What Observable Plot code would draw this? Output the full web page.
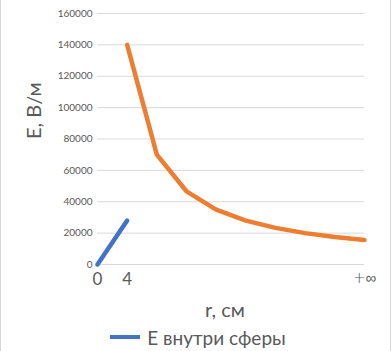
<!DOCTYPE html>
<html>
<head>
<meta charset="utf-8">
<script src="https://cdn.jsdelivr.net/npm/d3@7"></script>
<script src="https://cdn.jsdelivr.net/npm/@observablehq/plot@0.6"></script>
<style>
  html, body { margin: 0; padding: 0; background: #fff; }
  #chart { position: relative; width: 392px; height: 351px; overflow: hidden; font-family: Lato, "Open Sans", sans-serif; }
  #chart svg { display: block; }
  .edge { position: absolute; top: 0; bottom: 0; width: 1px; background: #d9d9d9; }
  #legend { position: absolute; left: 0; width: 392px; top: 323px; height: 28px; display: flex; justify-content: center; align-items: center; color: #595959; font-size: 19px; }
  #legend .sw { display: inline-block; width: 30px; height: 4px; background: #4472C4; margin-right: 7px; margin-left: 4px; }
</style>
</head>
<body>
<div id="chart"></div>
<script>
// Category labels along r (Excel category axis)
const categories = ["0", "4", "", "", "", "", "", "", "", "+∞"];
// E inside the sphere (index 0..1)
const insideValues = [0, 28000];
// E outside the sphere (index 1..9)
const outsideValues = [null, 140000, 70000, 46667, 35000, 28000, 23333, 20000, 17500, 15556];
const yTicks = [0, 20000, 40000, 60000, 80000, 100000, 120000, 140000, 160000];
const seriesNames = ["Е внутри сферы"];
const yTitle = "Е, В/м";
const xTitle = "r, см";

const inside = insideValues.map((v, i) => ({i, v})).filter(d => d.v != null);
const outside = outsideValues.map((v, i) => ({i, v})).filter(d => d.v != null);
const bigTicks = categories.map((c, i) => ({i, c})).filter(d => d.c !== "" && d.c !== "+∞").map(d => d.i);
const infTicks = categories.map((c, i) => ({i, c})).filter(d => d.c === "+∞").map(d => d.i);

const chart = Plot.plot({
  width: 392,
  height: 323,
  marginLeft: 97,
  marginRight: 28,
  marginTop: 13,
  marginBottom: 59,
  style: {fontFamily: "Lato, 'Open Sans', sans-serif", background: "transparent"},
  x: {domain: [0, categories.length - 1], axis: null},
  y: {domain: [0, 160000], axis: null},
  marks: [
    Plot.gridY(yTicks, {stroke: "#d9d9d9", strokeOpacity: 1, strokeWidth: 1}),
    Plot.axisY({ticks: yTicks, tickSize: 0, tickPadding: 5, tickFormat: d => String(d), fontSize: 10, fill: "#595959", label: null}),
    Plot.axisX({ticks: bigTicks, tickSize: 0, tickPadding: 8, tickFormat: i => categories[i], fontSize: 17, fill: "#595959", label: null}),
    Plot.axisX({ticks: infTicks, tickSize: 0, tickPadding: 8, tickFormat: i => categories[i], fontSize: 15, fill: "#595959", label: null, fontFamily: "'DejaVu Sans', sans-serif", fontWeight: 300}),
    Plot.line(outside, {x: "i", y: "v", stroke: "#ED7D31", strokeWidth: 4.5, strokeLinejoin: "round"}),
    Plot.line(inside, {x: "i", y: "v", stroke: "#4472C4", strokeWidth: 4.5, strokeLinejoin: "round"}),
    Plot.text([yTitle], {frameAnchor: "left", rotate: -90, dx: -63, fontSize: 20, fill: "#595959"}),
    Plot.text([xTitle], {frameAnchor: "bottom", dy: 52, dx: -6, fontSize: 20, fill: "#595959"})
  ]
});

const root = document.getElementById("chart");
root.appendChild(chart);
const l = document.createElement("div"); l.className = "edge"; l.style.left = "0px"; root.appendChild(l);
const r = document.createElement("div"); r.className = "edge"; r.style.left = "390px"; root.appendChild(r);
const legend = document.createElement("div");
legend.id = "legend";
legend.innerHTML = seriesNames.map(n => `<span class="sw"></span><span>${n}</span>`).join("");
root.appendChild(legend);
</script>
</body>
</html>
